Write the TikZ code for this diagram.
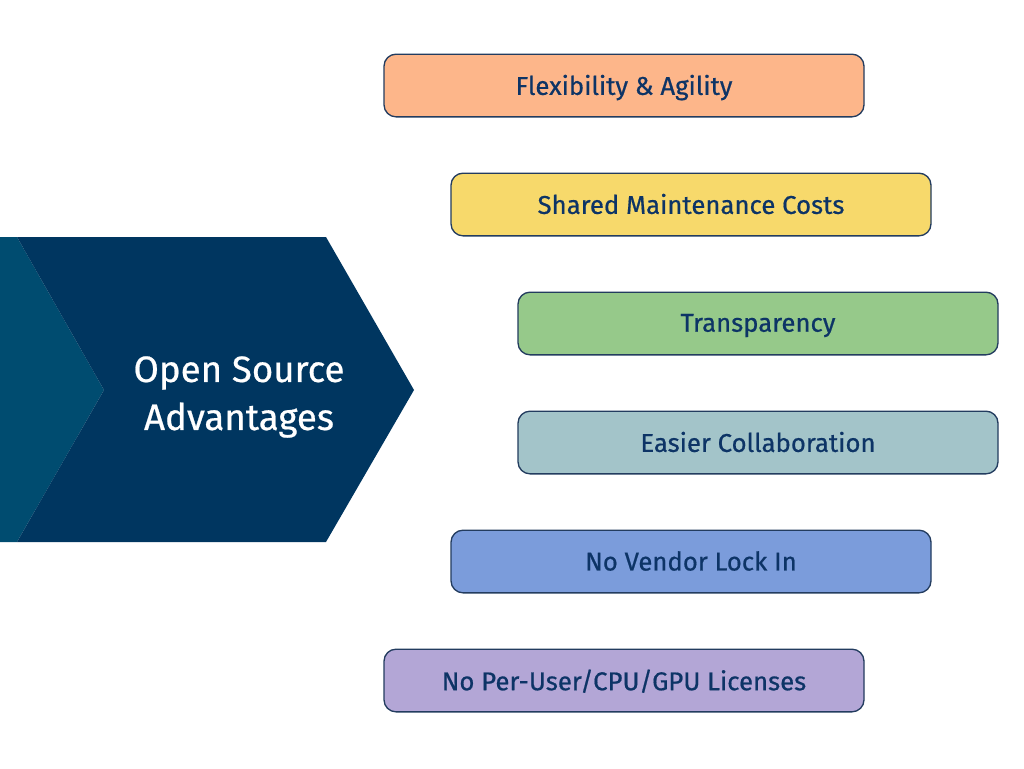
\documentclass[tikz,border=0pt]{standalone}
\usepackage{fontspec}
\setmainfont{Fira Sans}
\newfontfamily\medfont{Fira Sans}[FakeBold=0.6]
\definecolor{navy}{RGB}{0,54,96}
\definecolor{navylight}{RGB}{0,76,112}
\definecolor{txt}{RGB}{13,52,102}
\definecolor{edge}{RGB}{35,60,95}
\definecolor{c1}{RGB}{253,182,138}
\definecolor{c2}{RGB}{247,217,107}
\definecolor{c3}{RGB}{150,201,138}
\definecolor{c4}{RGB}{163,196,201}
\definecolor{c5}{RGB}{123,156,219}
\definecolor{c6}{RGB}{179,166,214}
\begin{document}
\begin{tikzpicture}[x=0.75pt,y=-0.75pt,
  adv/.style={draw=edge, line width=1pt, rounded corners=9pt, minimum width=360pt, minimum height=47pt, inner sep=0pt, text depth=1pt, text=txt, font=\medfont\fontsize{19.3}{22}\selectfont},
]
\useasboundingbox (0,0) rectangle (1024,768);
\fill[white] (0,0) rectangle (1024,768);
% chevron
\fill[navylight] (0,237) -- (17,237) -- (104,390) -- (17,542) -- (0,542) -- cycle;
\fill[navy] (17,237) -- (326,237) -- (414,390) -- (326,542) -- (17,542) -- (104,390) -- cycle;
\node[text=white, align=center, font=\medfont\fontsize{27.5}{36}\selectfont] (title) at (239,397) {Open Source\\Advantages};
% boxes
\node[adv, fill=c1] (b1) at (624,85.5) {Flexibility \& Agility};
\node[adv, fill=c2] (b2) at (691,204.5) {Shared Maintenance Costs};
\node[adv, fill=c3] (b3) at (758,323.5) {Transparency};
\node[adv, fill=c4] (b4) at (758,442.5) {Easier Collaboration};
\node[adv, fill=c5] (b5) at (691,561.5) {No Vendor Lock In};
\node[adv, fill=c6] (b6) at (624,680.5) {No Per-User/CPU/GPU Licenses};
\end{tikzpicture}
\end{document}
